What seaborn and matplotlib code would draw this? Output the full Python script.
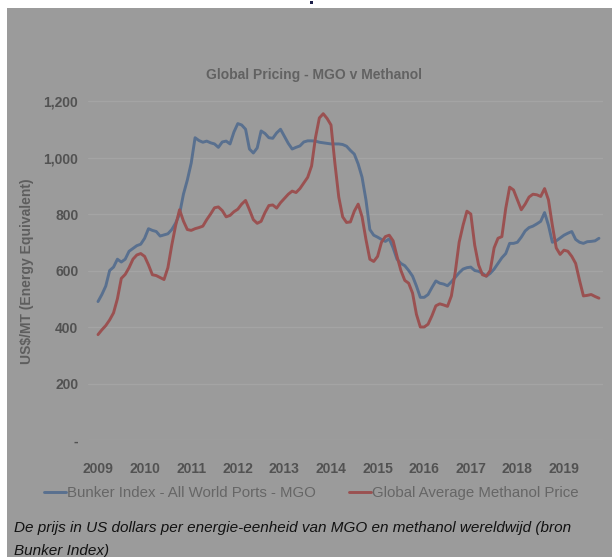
import numpy as np
import pandas as pd
import matplotlib
matplotlib.use("Agg")
import matplotlib.pyplot as plt
from matplotlib.patches import Rectangle
from matplotlib.lines import Line2D
import seaborn as sns

# Monthly prices, Jan 2009 - Oct 2019, US$/MT (energy equivalent)
start_year = 2009
mgo_price = [
    490, 515, 545, 600, 612, 640, 630, 640, 668, 678, 688, 693,        # 2009
    714, 748, 742, 738, 722, 726, 730, 745, 768, 800, 870, 920,        # 2010
    980, 1070, 1060, 1054, 1058, 1052, 1048, 1036, 1055, 1058, 1048, 1090,  # 2011
    1120, 1115, 1100, 1030, 1016, 1034, 1094, 1085, 1070, 1068, 1087, 1100,  # 2012
    1075, 1050, 1030, 1036, 1041, 1055, 1059, 1059, 1058, 1054, 1052, 1050,  # 2013
    1048, 1048, 1048, 1046, 1040, 1025, 1012, 977, 930, 850, 745, 725,  # 2014
    718, 710, 703, 712, 680, 640, 625, 617, 600, 580, 545, 505,        # 2015
    505, 515, 540, 563, 555, 552, 546, 560, 576, 592, 605, 610,        # 2016
    612, 600, 597, 590, 580, 590, 605, 625, 645, 660, 696, 696,        # 2017
    700, 718, 740, 752, 757, 765, 774, 805, 760, 700, 705, 715,        # 2018
    725, 732, 738, 710, 700, 696, 702, 703, 705, 714,                  # 2019
]
methanol_price = [
    373, 390, 405, 425, 450, 500, 572, 586, 610, 640, 655, 660,        # 2009
    650, 620, 585, 582, 575, 568, 610, 690, 760, 815, 775, 745,        # 2010
    742, 748, 752, 757, 780, 800, 822, 825, 812, 790, 795, 808,        # 2011
    817, 835, 848, 815, 780, 767, 774, 805, 830, 832, 821, 840,        # 2012
    855, 870, 881, 876, 890, 910, 930, 970, 1070, 1140, 1155, 1138,    # 2013
    1115, 980, 860, 790, 770, 772, 810, 835, 790, 710, 640, 632,       # 2014
    650, 700, 720, 725, 705, 650, 600, 565, 555, 520, 445, 400,        # 2015
    400, 410, 440, 475, 482, 478, 473, 510, 595, 700, 760, 810,        # 2016
    800, 690, 620, 585, 580, 600, 680, 714, 720, 820, 895, 885,        # 2017
    850, 815, 835, 860, 870, 868, 862, 890, 850, 760, 680, 657,        # 2018
    672, 668, 650, 625, 565, 510, 512, 515, 508, 502,                  # 2019
]
series_names = ["Bunker Index - All World Ports - MGO", "Global Average Methanol Price"]
year_labels = [str(y) for y in range(2009, 2020)]
y_ticks = [0, 200, 400, 600, 800, 1000, 1200]
y_tick_labels = ["-", "200", "400", "600", "800", "1,000", "1,200"]

months = np.arange(len(mgo_price))
t = start_year + months / 12.0
df = pd.concat([
    pd.DataFrame({"t": t, "price": mgo_price, "series": series_names[0]}),
    pd.DataFrame({"t": t, "price": methanol_price, "series": series_names[1]}),
])

BG = "#9b9b9b"
BLUE = "#59708f"
RED = "#9a5151"
palette = {series_names[0]: BLUE, series_names[1]: RED}

sns.set_theme(style="white")
plt.rcParams["font.family"] = ["Liberation Sans", "DejaVu Sans"]

W, H = 612, 557
fig = plt.figure(figsize=(W / 100, H / 100), dpi=100, facecolor=BG)

# white margins of the screenshot
fig.patches.append(Rectangle((0, 1 - 8 / H), 1, 8 / H, transform=fig.transFigure,
                             facecolor="white", edgecolor="none", zorder=0))
fig.patches.append(Rectangle((0, 0), 7 / W, 1, transform=fig.transFigure,
                             facecolor="white", edgecolor="none", zorder=0))
fig.patches.append(Rectangle((309.5 / W, 1 - 4 / H), 3 / W, 3 / H, transform=fig.transFigure,
                             facecolor="#1c1f4a", edgecolor="none", zorder=1))

ax_l, ax_r = 88, 603
ax_b, ax_t = 440, 87
ax = fig.add_axes([ax_l / W, 1 - ax_b / H, (ax_r - ax_l) / W, (ax_b - ax_t) / H])
ax.set_facecolor(BG)

sns.lineplot(data=df, x="t", y="price", hue="series", palette=palette,
             linewidth=2.1, ax=ax, legend=False)

px_per_year = 46.6
ax.set_xlim(2009 - (98 - ax_l) / px_per_year, 2009 + (ax_r - 98) / px_per_year)
ax.set_ylim(0, (ax_b - ax_t) / 0.2825)

ax.set_yticks(y_ticks)
ax.set_yticklabels(y_tick_labels)
ax.set_xticks(range(2009, 2020))
ax.set_xticklabels(year_labels)
ax.tick_params(axis="both", length=0, labelsize=10, colors="#525252")
ax.tick_params(axis="x", pad=16)
ax.tick_params(axis="y", pad=7)
for lab in ax.get_xticklabels() + ax.get_yticklabels():
    lab.set_fontweight("bold")

ax.grid(axis="y", color="#a4a4a4", linewidth=0.9)
ax.grid(axis="x", visible=False)
for s in ax.spines.values():
    s.set_visible(False)
ax.set_xlabel("")
ax.set_ylabel("")

fig.text(314 / W, 1 - 75 / H, "Global Pricing - MGO v Methanol", ha="center", va="center",
         fontsize=10, color="#626262", fontweight="bold")
fig.text(27 / W, 1 - 271 / H, "US$/MT (Energy Equivalent)", rotation=90, ha="center",
         va="center", fontsize=10, color="#5e5e5e", fontweight="bold")

handles = [Line2D([], [], color=BLUE, linewidth=2.1),
           Line2D([], [], color=RED, linewidth=2.1)]
fig.legend(handles, series_names, loc="center", bbox_to_anchor=(311 / W, 1 - 493 / H),
           ncol=2, frameon=False, fontsize=10.8, labelcolor="#666666",
           handlelength=1.5, handletextpad=0.05, columnspacing=2.2)

cap_family = ["Liberation Sans Narrow", "Liberation Sans", "DejaVu Sans"]
fig.text(14 / W, 1 - 528 / H,
         "De prijs in US dollars per energie-eenheid van MGO en methanol wereldwijd (bron",
         ha="left", va="center", fontsize=11, style="italic", color="#121212",
         family=cap_family)
fig.text(14 / W, 1 - 551 / H, "Bunker Index)", ha="left", va="center", fontsize=11,
         style="italic", color="#121212", family=cap_family)

fig.savefig("out.png", dpi=100, facecolor=BG)
